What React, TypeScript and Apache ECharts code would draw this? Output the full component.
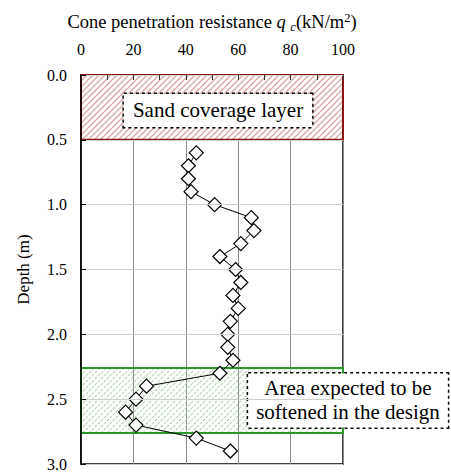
import React, { useEffect, useRef } from "react";
import * as echarts from "echarts";

const depths = [0.6, 0.7, 0.8, 0.9, 1.0, 1.1, 1.2, 1.3, 1.4, 1.5, 1.6, 1.7, 1.8, 1.9, 2.0, 2.1, 2.2, 2.3, 2.4, 2.5, 2.6, 2.7, 2.8, 2.9];
const qcValues = [44, 41, 41, 42, 51, 65, 66, 61, 53, 59, 61, 58, 60, 57, 56, 56, 58, 53, 25, 21, 17, 21, 44, 57];
const xTicks = [0, 20, 40, 60, 80, 100];
const sandLayer = [0, 0.5];
const softLayer = [2.26, 2.76];
const sandLabel = "Sand coverage layer";
const softLabel = "Area expected to be\nsoftened in the design";

const FONT = "Liberation Serif, Times New Roman, serif";

function makeHatch(size: number, color: string, lineWidth: number, bg: string | null, dashed: boolean): string {
  const c = document.createElement("canvas");
  c.width = size;
  c.height = size;
  const ctx = c.getContext("2d")!;
  if (bg) {
    ctx.fillStyle = bg;
    ctx.fillRect(0, 0, size, size);
  }
  ctx.strokeStyle = color;
  ctx.lineWidth = lineWidth;
  if (dashed) ctx.setLineDash([3, 1]);
  ctx.beginPath();
  ctx.moveTo(-1, size + 1);
  ctx.lineTo(size + 1, -1);
  ctx.moveTo(-1, 1);
  ctx.lineTo(1, -1);
  ctx.moveTo(size - 1, size + 1);
  ctx.lineTo(size + 1, size - 1);
  ctx.stroke();
  return c.toDataURL();
}

export default function App() {
  const ref = useRef<HTMLDivElement>(null);
  useEffect(() => {
    if (!ref.current) return;
    const chart = echarts.init(ref.current, null, { renderer: "svg" });
    const redHatch = makeHatch(6, "#dba4a4", 1.3, "#ffffff", false);
    const greenHatch = makeHatch(6, "#b2d9ad", 1.1, null, true);
    const data = depths.map((d, i) => [qcValues[i], d]);
    const labelBox = {
      show: true,
      color: "#000",
      fontFamily: FONT,
      fontSize: 21,
      lineHeight: 24,
      backgroundColor: "#fff",
      borderColor: "#000",
      borderWidth: 1.5,
      borderType: "dotted" as const,
    };
    chart.setOption({
      animation: false,
      textStyle: { fontFamily: FONT },
      grid: { left: 81, right: 108, top: 75, bottom: 8, show: true, borderColor: "#000", borderWidth: 1.5, backgroundColor: "transparent", z: 0 },
      xAxis: [
        {
          type: "value",
          position: "top",
          min: 0,
          max: 100,
          interval: 20,
          z: 0,
          axisLine: { show: false },
          axisTick: { show: false },
          axisLabel: { show: false },
          splitLine: { show: true, lineStyle: { color: "#8c8c8c", width: 1 } },
        },
        {
          type: "value",
          position: "top",
          min: 0,
          max: 100,
          interval: 20,
          z: 10,
          axisLine: { show: false },
          axisTick: { show: true, inside: true, length: 5, lineStyle: { color: "#333" } },
          minorTick: { show: true, splitNumber: 2, length: 5, lineStyle: { color: "#333" } },
          splitLine: { show: false },
          axisLabel: {
            color: "#000",
            fontFamily: FONT,
            fontSize: 16,
            margin: 18,
            formatter: (v: number) => (xTicks.includes(v) ? String(v) : ""),
          },
          name: "Cone penetration resistance {i|q} {sub|c}(kN/m{sup|2})",
          nameLocation: "middle",
          nameGap: 42,
          nameTextStyle: {
            color: "#000",
            fontFamily: FONT,
            fontSize: 18.5,
            lineHeight: 22,
            rich: {
              i: { fontFamily: FONT, fontSize: 18.5, fontStyle: "italic", color: "#000", lineHeight: 22 },
              sub: { fontFamily: FONT, fontSize: 12.5, fontStyle: "italic", color: "#000", verticalAlign: "bottom", lineHeight: 22, padding: [6, 0, 0, 0] },
              sup: { fontFamily: FONT, fontSize: 12.5, color: "#000", verticalAlign: "top", lineHeight: 22, padding: [0, 0, 8, 0] },
            },
          },
        },
      ],
      yAxis: {
        type: "value",
        inverse: true,
        min: 0,
        max: 3,
        interval: 0.5,
        z: 10,
        axisLine: { show: true, lineStyle: { color: "#000", width: 1.5 } },
        axisTick: { show: true, inside: true, length: 5, lineStyle: { color: "#000" } },
        splitLine: { show: true, lineStyle: { color: "#cfcfcf", width: 1 } },
        axisLabel: {
          color: "#000",
          fontFamily: FONT,
          fontSize: 16,
          margin: 14,
          formatter: (v: number) => v.toFixed(1),
        },
        name: "Depth (m)",
        nameLocation: "middle",
        nameGap: 49,
        nameTextStyle: { color: "#000", fontFamily: FONT, fontSize: 17 },
      },
      series: [
        {
          type: "line",
          xAxisIndex: 0,
          data: [],
          z: 1,
          silent: true,
          markArea: {
            silent: true,
            data: [
              [
                {
                  xAxis: 0,
                  yAxis: sandLayer[0],
                  itemStyle: {
                    color: { image: redHatch, repeat: "repeat", imageWidth: 6, imageHeight: 6 },
                    borderColor: "#8e1414",
                    borderWidth: 2,
                  },
                  label: { ...labelBox, position: "inside", offset: [6, 3], padding: [5, 9, 4, 9] },
                  name: sandLabel,
                },
                { xAxis: 100, yAxis: sandLayer[1] },
              ],
              [
                {
                  xAxis: 0,
                  yAxis: softLayer[0],
                  itemStyle: {
                    color: { image: greenHatch, repeat: "repeat", imageWidth: 6, imageHeight: 6 },
                    borderColor: "#2f962f",
                    borderWidth: 2,
                  },
                  label: { ...labelBox, position: "inside", offset: [136, 0], padding: [3, 8, 3, 8] },
                  name: softLabel,
                },
                { xAxis: 100, yAxis: softLayer[1] },
              ],
            ],
          },
        },
        {
          type: "line",
          xAxisIndex: 0,
          z: 5,
          data,
          symbol: "diamond",
          symbolSize: 14,
          showAllSymbol: true,
          lineStyle: { color: "#000", width: 1 },
          itemStyle: { color: "#fff", borderColor: "#000", borderWidth: 1.2 },
        },
      ],
    });
    return () => chart.dispose();
  }, []);
  return <div ref={ref} style={{ width: 451, height: 472, position: "absolute", left: 0, top: 0 }} />;
}
